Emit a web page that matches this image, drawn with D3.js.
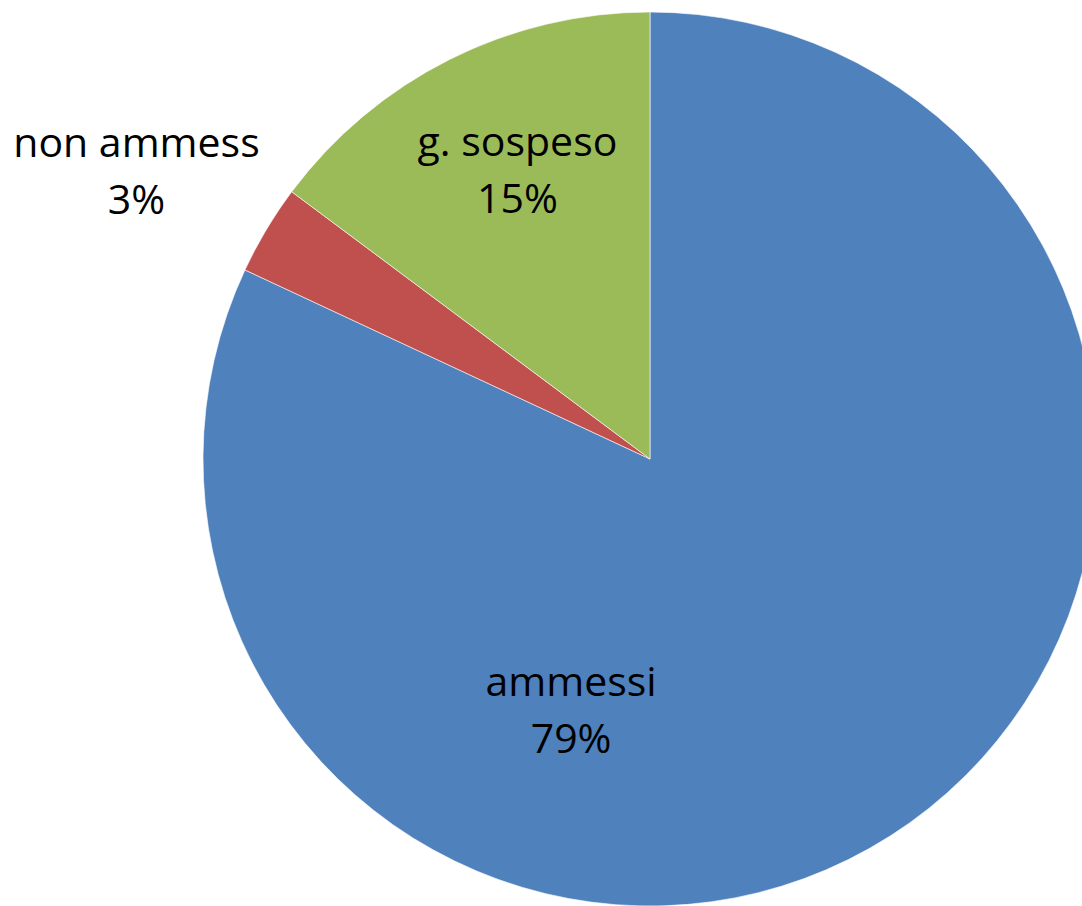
<html>
<head>
<meta charset="utf-8">
<title>Esiti</title>
<style>
  body { margin: 0; background: #fff; }
  .sliceLabel { font-family: "Open Sans", sans-serif; font-size: 41px; fill: #000; }
</style>
<script src="https://d3js.org/d3.v7.min.js"></script>
</head>
<body>
<script>
// data (share of the circle), labels as printed
var categories = ["ammessi", "non ammess", "g. sospeso"];
var values = [81.95, 3.25, 14.8];
var percentLabels = ["79%", "3%", "15%"];
var colors = ["#4F81BD", "#C0504D", "#9BBB59"];

var width = 1082, height = 906;
var cx = 650, cy = 459, radius = 447;

// where each label sits: angle (deg, clockwise from top) and distance from centre
var labelSpots = [[198.4, 250], [-59.5, 596], [-23.6, 331]];

var svg = d3.select("body").append("svg")
  .attr("width", width)
  .attr("height", height);

var g = svg.append("g").attr("transform", "translate(" + cx + "," + cy + ")");

var pie = d3.pie().sort(null).value(function(d){ return d; });
var arc = d3.arc().innerRadius(0).outerRadius(radius);

var arcs = pie(values);

g.selectAll("path")
  .data(arcs)
  .enter()
  .append("path")
  .attr("d", arc)
  .attr("fill", function(d, i){ return colors[i]; })
  .attr("stroke", "#ffffff")
  .attr("stroke-width", 0.6);

var labels = g.selectAll(".sliceLabel")
  .data(arcs)
  .enter()
  .append("text")
  .attr("class", "sliceLabel")
  .attr("text-anchor", "middle")
  .attr("transform", function(d, i){
    var a = labelSpots[i][0] * Math.PI / 180, r = labelSpots[i][1];
    return "translate(" + (Math.sin(a) * r) + "," + (-Math.cos(a) * r) + ")";
  });

labels.append("tspan")
  .attr("x", 0).attr("y", 0)
  .text(function(d, i){ return categories[i]; });
labels.append("tspan")
  .attr("x", 0).attr("y", 57)
  .text(function(d, i){ return percentLabels[i]; });
</script>
</body>
</html>
